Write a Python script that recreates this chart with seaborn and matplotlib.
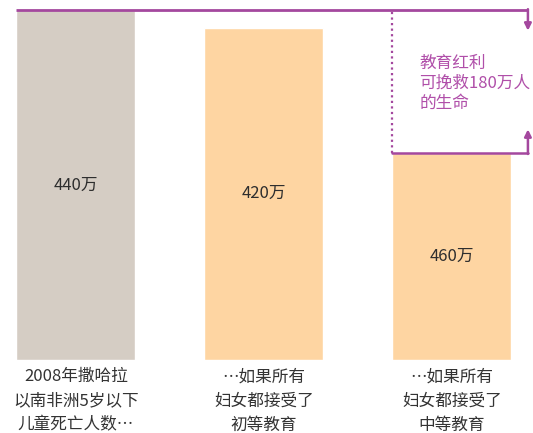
import matplotlib
matplotlib.use("Agg")
import matplotlib.pyplot as plt
import seaborn as sns
import pandas as pd

# data
categories = ["2008年撒哈拉\n以南非洲5岁以下\n儿童死亡人数…",
              "…如果所有\n妇女都接受了\n初等教育",
              "…如果所有\n妇女都接受了\n中等教育"]
deaths = [440, 418, 260]          # bar heights (万)
value_labels = ["440万", "420万", "460万"]
saved = 180
note = "教育红利\n可挽救180万人\n的生命"

bar_colors = ["#d5cdc4", "#fed5a2", "#fed5a2"]
purple = "#a4489e"
text_purple = "#b04fa9"

sns.set_theme(style="white")
plt.rcParams["font.family"] = ["Noto Sans CJK SC", "DejaVu Sans"]

df = pd.DataFrame({"cat": categories, "deaths": deaths})

fig = plt.figure(figsize=(5.33, 4.33), dpi=100)
ax = fig.add_axes([0, 73 / 433, 1, 360 / 433])

width = 0.633
sns.barplot(data=df, x="cat", y="deaths", hue="cat", palette=bar_colors,
            width=width, legend=False, ax=ax, saturation=1)

ax.set_xlim(-0.404, 2.431)
ax.set_ylim(0, deaths[0] * 360 / 350)
sns.despine(ax=ax, left=True, bottom=True)
ax.set_yticks([])
ax.set_xlabel("")
ax.set_ylabel("")
ax.tick_params(axis="x", length=0, pad=6)
for lab in ax.get_xticklabels():
    lab.set_fontsize(12)
    lab.set_color("#333333")
    lab.set_linespacing(1.55)

# value labels in the middle of each bar
for i, (v, t) in enumerate(zip(deaths, value_labels)):
    ax.text(i, v / 2, t, ha="center", va="center", fontsize=12,
            color="#2e2e2e", fontweight="medium")

# bracket showing the saved lives
x_right = 2.404
x_left3 = 2 - width / 2
top = deaths[0]
low = deaths[0] - saved
ax.plot([-width / 2, x_right], [top, top], color=purple, lw=2,
        solid_capstyle="butt", clip_on=False)
ax.plot([x_left3, x_right], [low, low], color=purple, lw=1.8)
ax.plot([x_left3, x_left3], [low, top], color=purple, lw=1.6, ls=(0, (1, 1.5)))
ax.annotate("", xy=(x_right, 414), xytext=(x_right, top + 1),
            arrowprops=dict(arrowstyle="-|>", color=purple, lw=1.8,
                            mutation_scale=10, shrinkA=0, shrinkB=0))
ax.annotate("", xy=(x_right, 290), xytext=(x_right, low - 1),
            arrowprops=dict(arrowstyle="-|>", color=purple, lw=1.8,
                            mutation_scale=10, shrinkA=0, shrinkB=0))

ax.text(1.825, 348, note, ha="left", va="center", fontsize=12,
        color=text_purple, linespacing=1.25)

fig.savefig("out.png", dpi=100)
